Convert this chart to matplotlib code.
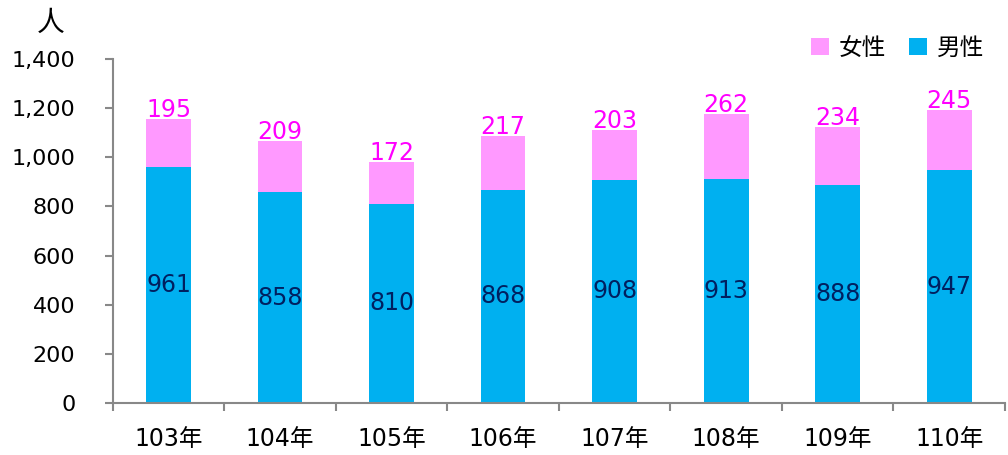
import matplotlib.pyplot as plt
import numpy as np

plt.rcParams['font.family'] = ['DejaVu Sans', 'Noto Sans CJK TC']

# 資料
years = ['103年', '104年', '105年', '106年', '107年', '108年', '109年', '110年']
male = [961, 858, 810, 868, 908, 913, 888, 947]
female = [195, 209, 172, 217, 203, 262, 234, 245]

blue = '#00B0F0'
pink = '#FF99FF'

fig = plt.figure(figsize=(10.08, 4.55), dpi=100)
ax = fig.add_axes([0.112, 0.1143, 0.885, 0.756])

x = np.arange(len(years))
w = 0.4
ax.bar(x, male, w, color=blue, label='男性')
ax.bar(x, female, w, bottom=male, color=pink, label='女性')

for i in range(len(years)):
    ax.text(x[i], male[i] / 2, str(male[i]), ha='center', va='center',
            fontsize=17, color='#002060')
    ax.text(x[i], male[i] + female[i] + 8, str(female[i]), ha='center',
            va='baseline', fontsize=17, color='#FF00FF')

ax.set_xlim(-0.5, len(years) - 0.5)
ax.set_ylim(0, 1400)
ax.set_yticks(range(0, 1401, 200))
ax.set_yticklabels([f'{v:,}' for v in range(0, 1401, 200)], fontsize=16)
ax.set_xticks(x)
ax.set_xticklabels(years, fontsize=17)
ax.set_xticks(np.arange(-0.5, len(years), 1), minor=True)
ax.tick_params(axis='x', which='major', length=0, pad=17)
ax.tick_params(axis='x', which='minor', length=6, color='#888888', width=1.5)
ax.tick_params(axis='y', length=6, color='#888888', width=1.5, pad=21)

for s in ['top', 'right']:
    ax.spines[s].set_visible(False)
for s in ['left', 'bottom']:
    ax.spines[s].set_color('#888888')
    ax.spines[s].set_linewidth(1.5)

fig.text(0.05, 0.95, '人', fontsize=20, ha='center', va='center')

h, l = ax.get_legend_handles_labels()
ax.legend(h[::-1], l[::-1], loc='upper right', bbox_to_anchor=(1.0, 1.13),
          ncol=2, frameon=False, fontsize=17, handlelength=0.75,
          handleheight=0.75, handletextpad=0.4, columnspacing=1.0)

fig.savefig('out.png', dpi=100)
